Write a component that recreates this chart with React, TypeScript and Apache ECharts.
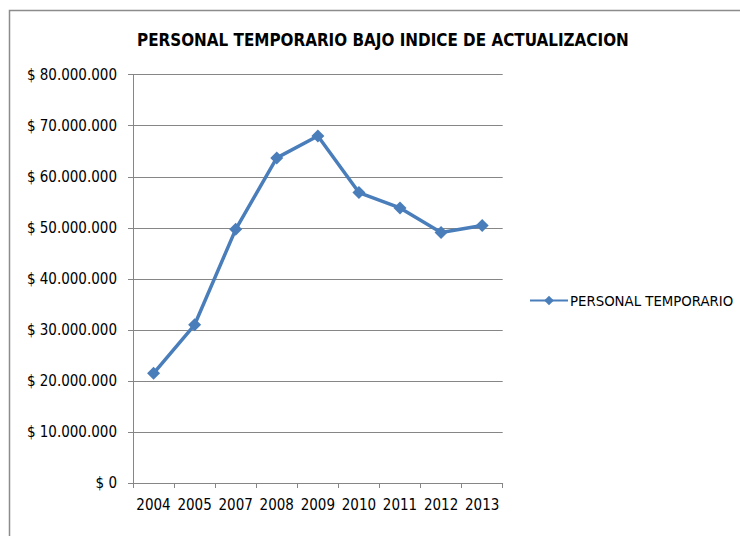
import React, { useEffect, useRef } from "react";
import * as echarts from "echarts";

const years = ["2004", "2005", "2007", "2008", "2009", "2010", "2011", "2012", "2013"];
const personalTemporario = [21500000, 31000000, 49700000, 63700000, 68000000, 56900000, 53900000, 49100000, 50450000];
const seriesName = "PERSONAL TEMPORARIO";
const titleText = "PERSONAL TEMPORARIO BAJO INDICE DE ACTUALIZACION";

const FONT = "'DejaVu Sans Condensed', 'Open Sans', sans-serif";

function fmt(v: number): string {
  if (v === 0) return "$ 0";
  const s = String(Math.round(v)).replace(/\B(?=(\d{3})+(?!\d))/g, ".");
  return "$ " + s;
}

export default function App() {
  const ref = useRef<HTMLDivElement>(null);
  useEffect(() => {
    if (!ref.current) return;
    const chart = echarts.init(ref.current, undefined, { renderer: "svg" });
    chart.setOption({
      animation: false,
      backgroundColor: "#ffffff",
      title: {
        text: titleText,
        left: 132,
        top: 26,
        textStyle: { fontFamily: FONT, fontSize: 16.9, fontWeight: "bold", color: "#000000" },
      },
      graphic: [
        {
          type: "rect",
          shape: { x: 9.5, y: 10.5, width: 800, height: 600 },
          style: { fill: "none", stroke: "#8c8c8c", lineWidth: 1.5 },
          silent: true,
        },
      ],
      legend: {
        data: [seriesName],
        left: 524,
        top: 288,
        itemWidth: 38,
        itemHeight: 12,
        itemGap: 4,
        textStyle: { fontFamily: FONT, fontSize: 14.8, color: "#000000", padding: [0, 0, 0, -3] },
      },
      grid: { left: 133, top: 74.7, right: 237.3, bottom: 53, containLabel: false },
      xAxis: {
        type: "category",
        data: years,
        boundaryGap: true,
        axisLine: { lineStyle: { color: "#868686", width: 1 } },
        axisTick: { show: true, length: 5, lineStyle: { color: "#868686" } },
        axisLabel: { fontFamily: FONT, fontSize: 15, color: "#000000", margin: 14, interval: 0 },
      },
      yAxis: {
        type: "value",
        min: 0,
        max: 80000000,
        interval: 10000000,
        axisLine: { show: true, lineStyle: { color: "#868686", width: 1 } },
        axisTick: { show: true, length: 5, lineStyle: { color: "#868686" } },
        splitLine: { show: true, lineStyle: { color: "#868686", width: 1 } },
        axisLabel: { fontFamily: FONT, fontSize: 15, color: "#000000", margin: 16, formatter: fmt },
      },
      series: [
        {
          name: seriesName,
          type: "line",
          data: personalTemporario,
          symbol: "diamond",
          symbolSize: 13,
          lineStyle: { color: "#4a7ebb", width: 3.5 },
          itemStyle: { color: "#4a7ebb" },
        },
      ],
    });
    return () => chart.dispose();
  }, []);
  return (
    <div
      ref={ref}
      style={{ position: "absolute", left: 0, top: 0, width: 740, height: 536 }}
    />
  );
}
